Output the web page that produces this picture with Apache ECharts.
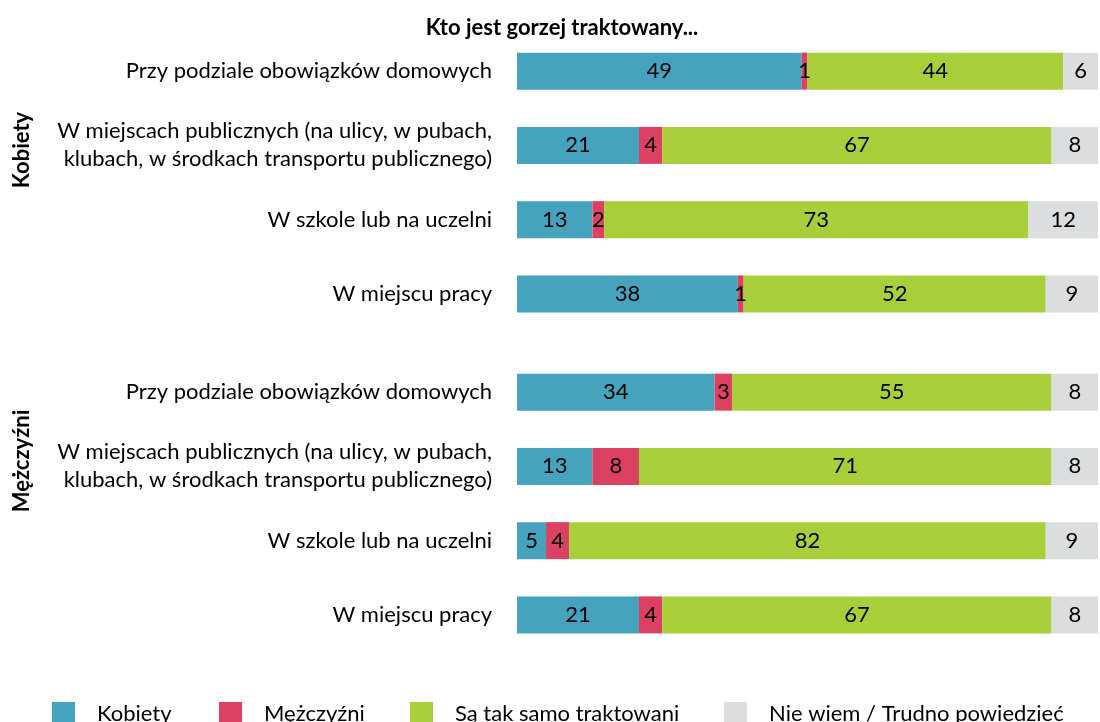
<!DOCTYPE html>
<html>
<head>
<meta charset="utf-8">
<script src="https://cdn.jsdelivr.net/npm/echarts@6/dist/echarts.min.js"></script>
<style>html,body{margin:0;padding:0;background:#fff}#c{width:1100px;height:722px}</style>
</head>
<body>
<div id="c"></div>
<script>
const title = 'Kto jest gorzej traktowany...';
const groups = ['Kobiety', 'Mężczyźni'];
const categories = [
  'Przy podziale obowiązków domowych',
  'W miejscach publicznych (na ulicy, w pubach,\nklubach, w środkach transportu publicznego)',
  'W szkole lub na uczelni',
  'W miejscu pracy'
];
const seriesNames = ['Kobiety', 'Mężczyźni', 'Są tak samo traktowani', 'Nie wiem / Trudno powiedzieć'];
// group "Kobiety"
const womenKobiety = [49, 21, 13, 38];
const womenMezczyzni = [1, 4, 2, 1];
const womenTakSamo = [44, 67, 73, 52];
const womenNieWiem = [6, 8, 12, 9];
// group "Mężczyźni"
const menKobiety = [34, 13, 5, 21];
const menMezczyzni = [3, 8, 4, 4];
const menTakSamo = [55, 71, 82, 67];
const menNieWiem = [8, 8, 9, 8];

const colors = ['#45A3BE', '#DC4062', '#A8CE39', '#DCDDDE'];
const FONT = 'Lato';
const FS = 22;
const groupData = [
  [womenKobiety, womenMezczyzni, womenTakSamo, womenNieWiem],
  [menKobiety, menMezczyzni, menTakSamo, menNieWiem]
];

const grids = [
  {left: 517, right: 2, top: 34, height: 297},
  {left: 517, right: 2, top: 355, height: 297}
];
const xAxes = grids.map((g, i) => ({gridIndex: i, type: 'value', min: 0, max: 100, show: false}));
const yAxes = grids.map((g, i) => ({
  gridIndex: i, type: 'category', inverse: true, data: categories,
  axisLine: {show: false}, axisTick: {show: false}, splitLine: {show: false},
  axisLabel: {margin: 25, color: '#000', fontFamily: FONT, fontSize: FS, align: 'right', lineHeight: 28}
}));
const series = [];
groupData.forEach((arrs, gi) => {
  arrs.forEach((vals, si) => {
    series.push({
      name: seriesNames[si], type: 'bar', stack: 'g' + gi,
      xAxisIndex: gi, yAxisIndex: gi, barWidth: 37,
      itemStyle: {color: colors[si]},
      label: {show: true, position: 'inside', color: '#000', fontFamily: FONT, fontSize: FS},
      data: vals
    });
  });
});
const legendLeft = [47, 214, 405, 719];
const legends = seriesNames.map((n, i) => ({
  data: [n], left: legendLeft[i], top: 697, orient: 'horizontal',
  icon: 'rect', itemWidth: 23, itemHeight: 23,
  textStyle: {fontFamily: FONT, fontSize: FS, color: '#000', padding: [0, 0, 6, 17]}
}));

const chart = echarts.init(document.getElementById('c'), null, {renderer: 'canvas'});
chart.setOption({
  backgroundColor: '#fff',
  animation: false,
  title: {text: title, left: 557, top: 12, textAlign: 'center',
    textStyle: {fontFamily: FONT, fontWeight: 'bold', fontSize: FS, color: '#000'}},
  legend: legends,
  grid: grids,
  xAxis: xAxes,
  yAxis: yAxes,
  graphic: [
    {type: 'text', x: 22, y: 150, rotation: Math.PI / 2,
      style: {text: groups[0], font: 'bold ' + FS + 'px ' + FONT, fill: '#000', align: 'center', verticalAlign: 'middle'}},
    {type: 'text', x: 22, y: 461, rotation: Math.PI / 2,
      style: {text: groups[1], font: 'bold ' + FS + 'px ' + FONT, fill: '#000', align: 'center', verticalAlign: 'middle'}}
  ],
  series: series
});
</script>
</body>
</html>
